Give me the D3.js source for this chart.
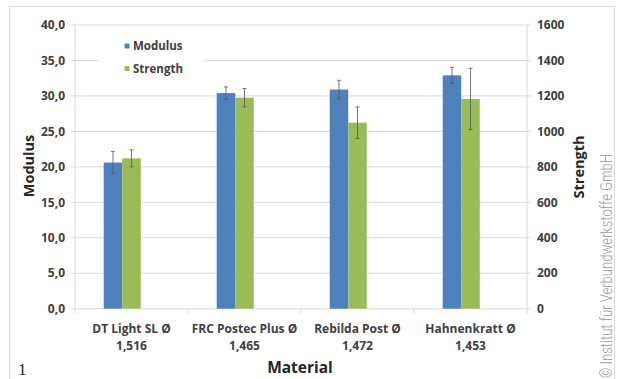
<!DOCTYPE html>
<html><head><meta charset="utf-8">
<script src="https://cdn.jsdelivr.net/npm/d3@7/dist/d3.min.js"></script>
<style>body{margin:0;background:#fff}svg{display:block}</style>
</head><body>
<script>
const categories = [["DT Light SL Ø","1,516"],["FRC Postec Plus Ø","1,465"],["Rebilda Post Ø","1,472"],["Hahnenkratt Ø","1,453"]];
const modulus = [20.6, 30.4, 30.9, 32.9];
const modulusErr = [1.55, 0.87, 1.3, 1.13];
const strength = [848, 1190, 1049, 1183];
const strengthErr = [48, 52, 89, 173];
const leftTicks = [0,5,10,15,20,25,30,35,40];
const rightTicks = [0,200,400,600,800,1000,1200,1400,1600];

const W=617,H=379;
const m={l:75,r:527,t:25,b:308.7};
const svg=d3.select("body").append("svg").attr("width",W).attr("height",H);
const font="'Open Sans', sans-serif";
const blue="#4f81bd", green="#9bbb59";

// outer border
svg.append("rect").attr("x",9.5).attr("y",6.5).attr("width",605).attr("height",400).attr("fill","none").attr("stroke","#dcdcdc");

const x=d3.scaleBand().domain(categories.map((d,i)=>i)).range([m.l,m.r]);
const yL=d3.scaleLinear().domain([0,40]).range([m.b,m.t]);
const yR=d3.scaleLinear().domain([0,1600]).range([m.b,m.t]);
const bw=x.bandwidth()*0.164;

// gridlines
svg.append("g").selectAll("line").data(leftTicks).join("line")
 .attr("x1",m.l-4).attr("x2",m.r+4).attr("y1",d=>yL(d)).attr("y2",d=>yL(d))
 .attr("stroke","#d9d9d9").attr("stroke-width",1);
// axes lines
svg.append("line").attr("x1",m.l).attr("x2",m.l).attr("y1",m.t).attr("y2",m.b).attr("stroke","#d9d9d9");
svg.append("line").attr("x1",m.r).attr("x2",m.r).attr("y1",m.t).attr("y2",m.b).attr("stroke","#d9d9d9");
// x ticks
svg.append("g").selectAll("line").data(d3.range(categories.length+1)).join("line")
 .attr("x1",d=>m.l+d*x.step()).attr("x2",d=>m.l+d*x.step()).attr("y1",m.b).attr("y2",m.b+5)
 .attr("stroke","#d9d9d9");

// legend box
svg.append("rect").attr("x",98).attr("y",33).attr("width",105).attr("height",46).attr("fill","#fff");

// bars
const g=svg.append("g");
categories.forEach((c,i)=>{
  const cx=x(i)+x.bandwidth()/2;
  const x0=cx-1.5*bw;
  g.append("rect").attr("x",x0).attr("y",yL(modulus[i])).attr("width",bw).attr("height",m.b-yL(modulus[i])).attr("fill",blue);
  g.append("rect").attr("x",x0+bw).attr("y",yR(strength[i])).attr("width",bw).attr("height",m.b-yR(strength[i])).attr("fill",green);
  const eb=(ex,y1,y2)=>{
    g.append("line").attr("x1",ex).attr("x2",ex).attr("y1",y1).attr("y2",y2).attr("stroke","#555").attr("stroke-width",0.8);
    [y1,y2].forEach(yy=>g.append("line").attr("x1",ex-2).attr("x2",ex+2).attr("y1",yy).attr("y2",yy).attr("stroke","#555").attr("stroke-width",0.8));
  };
  eb(x0+bw/2,yL(modulus[i]+modulusErr[i]),yL(modulus[i]-modulusErr[i]));
  eb(x0+1.5*bw,yR(strength[i]+strengthErr[i]),yR(strength[i]-strengthErr[i]));
  // category labels
  const t=svg.append("text").attr("x",cx).attr("y",332.5).attr("text-anchor","middle")
   .attr("font-family",font).attr("font-weight",700).attr("font-size",12).attr("fill","#404040");
  t.append("tspan").attr("x",cx).attr("dy",0).text(c[0]);
  t.append("tspan").attr("x",cx).attr("dy",17.5).text(c[1]);
});

// tick labels
svg.append("g").selectAll("text").data(leftTicks).join("text")
 .attr("x",m.l-10).attr("y",d=>yL(d)).attr("dy","0.35em").attr("text-anchor","end")
 .attr("font-family",font).attr("font-weight",700).attr("font-size",12).attr("fill","#404040")
 .text(d=>d3.format(".1f")(d).replace(".",","));
svg.append("g").selectAll("text").data(rightTicks).join("text")
 .attr("x",m.r+10).attr("y",d=>yR(d)).attr("dy","0.35em").attr("text-anchor","start")
 .attr("font-family",font).attr("font-weight",700).attr("font-size",12).attr("fill","#404040")
 .text(d=>d);

// legend
[[blue,"Modulus",46],[green,"Strength",68.5]].forEach(([c,t,yy])=>{
  svg.append("rect").attr("x",124.5).attr("y",yy-2.5).attr("width",5).attr("height",5).attr("fill",c);
  svg.append("text").attr("x",133).attr("y",yy).attr("dy","0.35em").attr("font-family",font).attr("font-weight",700)
   .attr("font-size",11.5).attr("fill","#404040").text(t);
});

// axis titles
svg.append("text").attr("transform","translate(34,166) rotate(-90)").attr("text-anchor","middle")
 .attr("font-family",font).attr("font-weight",700).attr("font-size",14.5).attr("fill","#262626").text("Modulus");
svg.append("text").attr("transform","translate(584,167) rotate(-90)").attr("text-anchor","middle")
 .attr("font-family",font).attr("font-weight",700).attr("font-size",14.5).attr("fill","#262626").text("Strength");
svg.append("text").attr("x",300).attr("y",373).attr("text-anchor","middle")
 .attr("font-family",font).attr("font-weight",700).attr("font-size",15.5).attr("fill","#262626").text("Material");

// figure number
svg.append("text").attr("x",18).attr("y",375).attr("font-family","'Liberation Serif', serif").attr("font-size",17).attr("fill","#222").text("1");

// copyright
svg.append("text").attr("transform","translate(612,378) rotate(-90)").attr("text-anchor","start")
 .attr("font-family","Roboto, sans-serif").attr("font-weight",300).attr("font-size",17).attr("fill","#999")
 .attr("textLength",224).attr("lengthAdjust","spacingAndGlyphs")
 .text("© Institut für Verbundwerkstoffe GmbH");
</script>
</body></html>
